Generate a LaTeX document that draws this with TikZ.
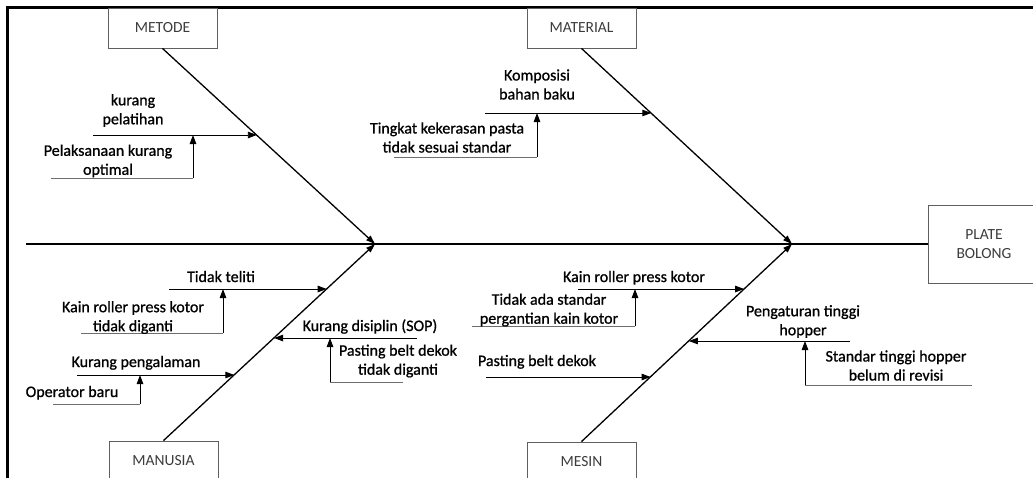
\documentclass[tikz,border=0pt]{standalone}
\usepackage{fontspec}
\setmainfont{Carlito}
\newfontfamily\lblfont[FakeBold=0.9]{Carlito}
\usetikzlibrary{arrows.meta,calc}
\definecolor{boxgray}{RGB}{95,95,95}
\definecolor{boxtext}{RGB}{60,60,60}
\definecolor{subgray}{RGB}{110,110,110}
\begin{document}
\begin{tikzpicture}[x=1pt,y=-1pt,
  cat/.style={draw=boxgray, line width=0.9pt, minimum width=109pt, minimum height=40pt, inner sep=0pt, text=boxtext, font=\fontsize{15.5}{19}\selectfont, align=center},
  lbl/.style={font=\lblfont\fontsize{16}{19}\selectfont, align=center, inner sep=0pt},
  lbl1/.style={lbl, text height=11pt, text depth=3pt},
  bone/.style={line width=1.3pt, -{Triangle[length=9pt,width=6pt]}},
  branch/.style={line width=0.9pt, -{Triangle[length=9pt,width=6.5pt]}},
  subline/.style={line width=0.9pt, draw=subgray},
  spine/.style={line width=1.1pt}]
\useasboundingbox (0,0) rectangle (1033,477);
% frame
\draw[line width=3pt] (7.5,482) -- (7.5,7.5) -- (1040,7.5);
% category boxes
\node[cat] (metode) at (162.5,28) {METODE};
\node[cat] (material) at (581.5,28) {MATERIAL};
\node[cat] (manusia) at (163.5,461) {MANUSIA};
\node[cat] (mesin) at (581.5,462) {MESIN};
\node[cat, minimum width=112pt, minimum height=78pt] (plate) at (984,244) {PLATE\\BOLONG};
% spine
\coordinate (tail) at (26,244);
\coordinate (j1) at (375,244);
\coordinate (j2) at (792,244);
\draw[spine] (tail) -- (plate.west);
% bones
\draw[bone] (metode.south) -- (j1);
\draw[bone] (manusia.north) -- (j1);
\draw[bone] (material.south) -- (j2);
\draw[bone] (mesin.north) -- (j2);
% points on bones
\coordinate (mt1) at ($(metode.south)!0.4439!(j1)$);
\coordinate (ma1) at ($(material.south)!0.3316!(j2)$);
\coordinate (mn1) at ($(manusia.north)!0.7716!(j1)$);
\coordinate (mn2) at ($(manusia.north)!0.5228!(j1)$);
\coordinate (mn3) at ($(manusia.north)!0.335!(j1)$);
\coordinate (ms1) at ($(mesin.north)!0.7727!(j2)$);
\coordinate (ms2) at ($(mesin.north)!0.5101!(j2)$);
\coordinate (ms3) at ($(mesin.north)!0.3283!(j2)$);
% METODE branches
\coordinate (mt1s) at (93,135);
\draw[branch] (mt1s) -- (mt1s -| mt1);
\coordinate (mt1a) at (51,178);
\coordinate (mt1b) at (193,178);
\draw[subline] (mt1a) -- (mt1b);
\draw[branch] (mt1b) -- (mt1b |- mt1s);
\node[lbl] (kp) at (133,110.5) {kurang\\pelatihan};
\node[lbl] (pk) at (108,161) {Pelaksanaan kurang\\optimal};
% MATERIAL branches
\coordinate (ma1s) at (485,113);
\draw[branch] (ma1s) -- (ma1s -| ma1);
\coordinate (ma1a) at (394,157);
\coordinate (ma1b) at (537,157);
\draw[subline] (ma1a) -- (ma1b);
\draw[branch] (ma1b) -- (ma1b |- ma1s);
\node[lbl] (kb) at (537,84.5) {Komposisi\\bahan baku};
\node[lbl] (tk) at (447,137.5) {Tingkat kekerasan pasta\\tidak sesuai standar};
% MANUSIA branches
\coordinate (mn1s) at (169,289);
\draw[branch] (mn1s) -- (mn1s -| mn1);
\coordinate (mn1a) at (81,333);
\coordinate (mn1b) at (223,333);
\draw[subline] (mn1a) -- (mn1b);
\draw[branch] (mn1b) -- (mn1b |- mn1s);
\node[lbl1] (tt) at (221,278) {Tidak teliti};
\node[lbl] (kr1) at (133,317.5) {Kain roller press kotor\\tidak diganti};
\coordinate (mn2s) at (417,338);
\draw[branch] (mn2s) -- (mn2s -| mn2);
\coordinate (mn2a) at (403,382);
\coordinate (mn2b) at (330,382);
\draw[subline] (mn2a) -- (mn2b);
\draw[branch] (mn2b) -- (mn2b |- mn2s);
\node[lbl1] (kd) at (370,327) {Kurang disiplin (SOP)};
\node[lbl] (pb1) at (398,361) {Pasting belt dekok\\tidak diganti};
\coordinate (mn3s) at (77,375);
\draw[branch] (mn3s) -- (mn3s -| mn3);
\coordinate (mn3a) at (53,404);
\coordinate (mn3b) at (140,404);
\draw[subline] (mn3a) -- (mn3b);
\draw[branch] (mn3b) -- (mn3b |- mn3s);
\node[lbl1] (kpg) at (136,363) {Kurang pengalaman};
\node[lbl1] (ob) at (72,393) {Operator baru};
% MESIN branches
\coordinate (ms1s) at (578,289);
\draw[branch] (ms1s) -- (ms1s -| ms1);
\coordinate (ms1a) at (472,326);
\coordinate (ms1b) at (635,326);
\draw[subline] (ms1a) -- (ms1b);
\draw[branch] (ms1b) -- (ms1b |- ms1s);
\node[lbl1] (kr2) at (634,278) {Kain roller press kotor};
\node[lbl] (ta) at (549,310) {Tidak ada standar\\pergantian kain kotor};
\coordinate (ms2s) at (850,341);
\draw[branch] (ms2s) -- (ms2s -| ms2);
\coordinate (ms2a) at (972,385);
\coordinate (ms2b) at (805,385);
\draw[subline] (ms2a) -- (ms2b);
\draw[branch] (ms2b) -- (ms2b |- ms2s);
\node[lbl] (pt) at (803,321.5) {Pengaturan tinggi\\hopper};
\node[lbl] (st) at (896,365.5) {Standar tinggi hopper\\belum di revisi};
\coordinate (ms3s) at (486,377);
\draw[branch] (ms3s) -- (ms3s -| ms3);
\node[lbl1] (pb2) at (537,362) {Pasting belt dekok};
\end{tikzpicture}
\end{document}
